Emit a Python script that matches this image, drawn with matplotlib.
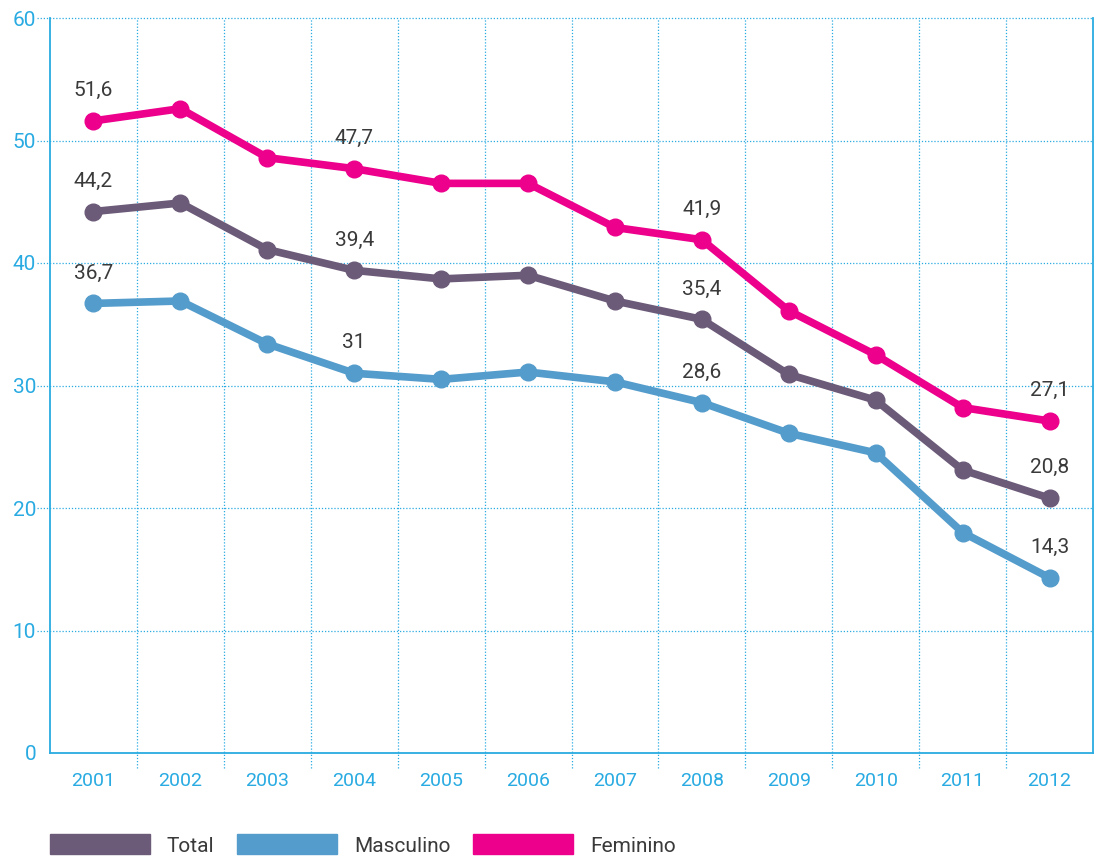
import matplotlib.pyplot as plt
from matplotlib.patches import Patch

# data
years = ["2001", "2002", "2003", "2004", "2005", "2006",
         "2007", "2008", "2009", "2010", "2011", "2012"]
total = [44.2, 44.9, 41.1, 39.4, 38.7, 39.0, 36.9, 35.4, 30.9, 28.8, 23.1, 20.8]
masculino = [36.7, 36.9, 33.4, 31.0, 30.5, 31.1, 30.3, 28.6, 26.1, 24.5, 18.0, 14.3]
feminino = [51.6, 52.6, 48.6, 47.7, 46.5, 46.5, 42.9, 41.9, 36.1, 32.5, 28.2, 27.1]
labeled = [0, 3, 7, 11]
y_ticks = [0, 10, 20, 30, 40, 50, 60]

CYAN = "#29abe2"
colors = {"Total": "#6b5a78", "Masculino": "#549ccb", "Feminino": "#ec008c"}
series = {"Total": total, "Masculino": masculino, "Feminino": feminino}

plt.rcParams['font.family'] = ['Roboto', 'DejaVu Sans']

fig = plt.figure(figsize=(10.97, 8.58), dpi=100)
ax = fig.add_axes([50 / 1097, 105 / 858, 1043 / 1097, 735 / 858])

x = list(range(len(years)))
ax.set_xlim(-0.5, len(years) - 0.5)
ax.set_ylim(0, 60)

# dotted grid, extended a little past the axes like in the original
for yv in y_ticks[1:]:
    ax.plot([-0.012, 1], [yv, yv], transform=ax.get_yaxis_transform(),
            color=CYAN, lw=0.9, ls=(0, (1, 1.5)), clip_on=False, zorder=1)
for b in range(1, len(years)):
    ax.plot([b - 0.5, b - 0.5], [-0.02, 1], transform=ax.get_xaxis_transform(),
            color=CYAN, lw=0.9, ls=(0, (1, 1.5)), clip_on=False, zorder=1)

for name, vals in series.items():
    ax.plot(x, vals, color=colors[name], lw=5.5, marker="o", markersize=12,
            solid_joinstyle="round", zorder=3)
    for i in labeled:
        ax.annotate(f"{vals[i]:g}".replace(".", ","), (x[i], vals[i]),
                    xytext=(0, 15), textcoords="offset points", ha="center",
                    va="bottom", fontsize=15, color="#3a3a3a")

ax.set_xticks(x)
ax.set_xticklabels(years)
ax.set_yticks(y_ticks)
ax.tick_params(axis="both", length=0, colors=CYAN, labelsize=14)
ax.tick_params(axis="y", labelsize=15)
ax.tick_params(axis="x", pad=14)
ax.tick_params(axis="y", pad=10)

ax.spines["top"].set_visible(False)
for s in ["left", "bottom", "right"]:
    ax.spines[s].set_color(CYAN)
    ax.spines[s].set_linewidth(1.3)

handles = [Patch(color=colors[n]) for n in series]
fig.legend(handles, list(series.keys()), loc="center left",
           bbox_to_anchor=(50 / 1097, 13 / 858), ncol=3, frameon=False,
           borderpad=0, borderaxespad=0,
           handlelength=4.8, handleheight=1.1, columnspacing=1.1,
           handletextpad=0.8, fontsize=15, labelcolor="#3a3a3a")

fig.savefig("out.png", dpi=100)
